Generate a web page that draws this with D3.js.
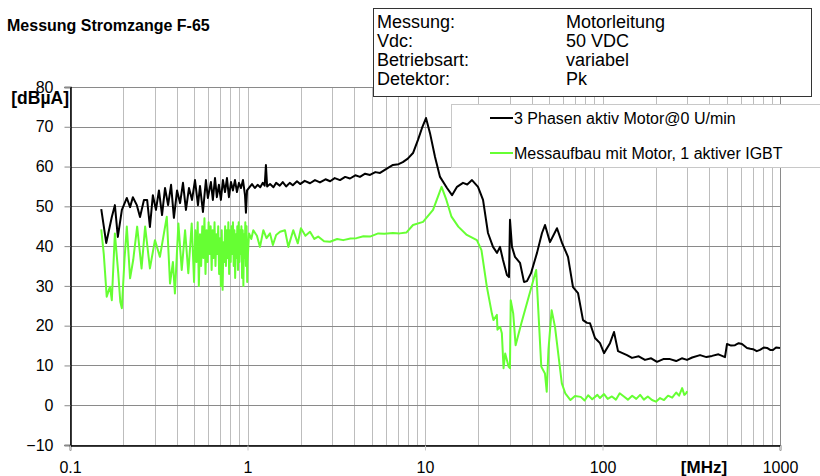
<!DOCTYPE html>
<html>
<head>
<meta charset="utf-8">
<script src="https://cdn.jsdelivr.net/npm/d3@7"></script>
<style>
  html, body { margin: 0; padding: 0; background: #fff; }
  svg { display: block; font-family: Arial, "Liberation Sans", sans-serif; }
</style>
</head>
<body>
<svg id="chart" width="820" height="476"></svg>
<script>
// Frequencies in MHz, levels in dBµA
const blackFreq = [
  0.150, 0.160, 0.172, 0.179, 0.186, 0.196, 0.209, 0.218, 0.226, 0.238,
  0.248, 0.261, 0.272, 0.282, 0.293, 0.305, 0.317, 0.330, 0.343, 0.357,
  0.371, 0.385, 0.401, 0.417, 0.433, 0.450, 0.468, 0.487, 0.506, 0.526,
  0.540, 0.561, 0.583, 0.598, 0.622, 0.638, 0.656, 0.672, 0.690, 0.708,
  0.727, 0.747, 0.766, 0.786, 0.807, 0.828, 0.850, 0.872, 0.895, 0.919,
  0.943, 0.968, 0.980, 0.994,
  1.03, 1.06, 1.10, 1.14, 1.18, 1.22, 1.25, 1.27, 1.29, 1.34,
  1.40, 1.45, 1.52, 1.58, 1.65, 1.73, 1.80, 1.90, 1.98, 2.10,
  2.25, 2.40, 2.56, 2.75, 2.92, 3.10, 3.32, 3.55, 3.78, 4.05,
  4.30, 4.60, 4.90, 5.25, 5.58, 6.00, 6.60, 7.10, 7.50, 8.00,
  8.56, 9.13, 9.62, 10.13, 10.67, 11.39, 12.15, 13.3, 14.2, 15.15,
  16.37, 17.3, 18.4, 19.89, 21.23, 22.64, 24.16, 25.45, 26.46, 27.51,
  28.97, 29.73, 30.12, 30.91, 32.14, 34.29, 36.12, 37.55, 39.56, 42.76,
  45.62, 47.44, 50.6, 55.42, 59.14, 63.92, 68.21, 72.78, 77.65, 81.8,
  85.05, 90.74, 96.8, 102.0, 110.2, 116.1, 122.3, 137.4, 146.6, 160,
  173.5, 188, 202.8, 220, 240.1, 260, 280, 299.4, 320, 354.3,
  385, 414, 450, 489.9, 502.9, 530, 557.9, 585, 610.7, 651.8,
  680, 704.6, 740, 771.7, 810, 845.2, 880, 913.1, 950, 1000
];
const blackLevel = [
  49.3, 40.8, 47.3, 50.3, 42.3, 49.1, 52.1, 49.8, 52.3, 50.3,
  47.3, 51.6, 51.6, 44.8, 52.8, 49.1, 54.0, 47.8, 54.6, 50.3,
  55.4, 47.1, 54.0, 50.8, 55.9, 49.1, 54.6, 51.6, 56.6, 50.3,
  55.1, 48.6, 56.6, 52.1, 56.1, 51.6, 57.1, 52.3, 55.4, 51.6,
  56.6, 53.6, 57.1, 52.3, 56.1, 54.0, 56.6, 53.6, 55.9, 54.6,
  56.6, 52.8, 48.4, 54.0,
  54.9, 55.6, 54.6, 55.4, 54.8, 55.9, 55.2, 60.4, 55.0, 55.6,
  54.8, 55.9, 55.2, 56.1, 55.0, 55.9, 55.3, 56.3, 55.6, 56.4,
  55.8, 56.6, 56.0, 56.8, 56.3, 57.1, 56.6, 57.4, 57.0, 57.8,
  57.4, 58.2, 57.9, 58.6, 58.4, 59.3, 60.4, 60.6, 61.1, 62.0,
  63.4, 66.7, 69.7, 72.2, 68.4, 62.4, 57.4, 54.6, 52.8, 54.9,
  55.9, 55.5, 56.6, 54.9, 51.6, 43.3, 39.8, 38.3, 39.8, 36.5,
  32.7, 32.2, 46.6, 39.8, 37.3, 35.8, 31.0, 31.2, 33.2, 38.3,
  43.3, 45.3, 41.0, 44.5, 40.8, 37.3, 29.7, 28.2, 21.4, 20.7,
  20.6, 16.9, 15.6, 13.1, 15.6, 18.4, 13.6, 12.6, 11.9, 12.3,
  11.4, 11.8, 10.9, 11.6, 11.6, 11.1, 11.8, 11.4, 12.0, 12.6,
  12.1, 12.4, 12.8, 12.1, 15.4, 15.0, 15.1, 15.6, 15.4, 14.4,
  14.2, 14.1, 13.6, 13.9, 14.5, 14.4, 13.9, 13.9, 14.5, 14.4
];

const greenFreq = [
  0.150, 0.155, 0.161, 0.168, 0.172, 0.179, 0.187, 0.192, 0.196, 0.203,
  0.209, 0.218, 0.227, 0.239, 0.253, 0.265, 0.282, 0.301, 0.321, 0.351,
  0.366, 0.380, 0.390, 0.408, 0.426, 0.445, 0.464, 0.485,
  0.500, 0.508, 0.516, 0.524, 0.532, 0.540, 0.548, 0.556, 0.564, 0.572,
  0.580, 0.588, 0.596, 0.604, 0.612, 0.620, 0.628, 0.636, 0.644, 0.652,
  0.660, 0.668, 0.676, 0.684, 0.692, 0.700, 0.708, 0.716, 0.724, 0.732,
  0.740, 0.748, 0.756, 0.764, 0.772, 0.780, 0.788, 0.796, 0.804, 0.812,
  0.820, 0.828, 0.836, 0.844, 0.852, 0.860, 0.868, 0.876, 0.884, 0.892,
  0.900, 0.908, 0.916, 0.924, 0.932, 0.940, 0.948, 0.956, 0.964, 0.972,
  0.980, 0.988, 0.996,
  1.000, 1.02, 1.05, 1.078, 1.13, 1.176, 1.228, 1.28, 1.339,
  1.39, 1.45, 1.525, 1.626, 1.698, 1.81, 1.92, 2.00, 2.12, 2.25,
  2.38, 2.50, 2.70, 2.916, 3.2, 3.46, 3.8, 4.11, 4.5, 4.9,
  5.45, 5.9, 6.6, 7.2, 7.85, 8.56, 9.75, 11.1, 12.4, 13.2,
  14.1, 15.4, 17.2, 19.6, 20.8, 22.3, 23.8, 24.3, 25.4, 25.6,
  26.5, 27.1, 27.7, 28.3, 29.6, 30.1, 30.4, 31.4, 32.4, 34.9,
  42.3, 45.2, 47.4, 48.5, 49.6, 51.7, 54.0, 59.0, 61.7, 66.0,
  70.0, 75.4, 79.3, 83.0, 87.5, 93.6, 96.8, 102, 107, 113,
  119, 125, 132, 139, 147, 155, 163, 171, 180, 190,
  200, 211, 222, 234, 247, 260, 270, 281, 289, 296, 300
];
const greenLevel = [
  44.2, 38.0, 27.3, 29.8, 26.4, 43.2, 33.2, 26.0, 24.4, 37.0,
  44.9, 31.9, 36.5, 44.9, 34.4, 44.9, 34.4, 41.5, 37.3, 47.4,
  30.6, 36.0, 28.1, 45.7, 34.0, 44.0, 33.2, 45.7,
  31, 44, 36, 46, 30, 43, 35, 45, 37, 47,
  33, 44, 36, 46, 38, 45, 34, 44, 37, 46,
  35, 43, 38, 45, 33, 42, 30, 44, 29, 41,
  36, 45, 35, 44, 37, 46, 33, 44, 36, 45,
  38, 46, 35, 44, 32, 43, 37, 45, 34, 46,
  36, 44, 38, 45, 32, 44, 30, 43, 37, 46,
  35, 45, 31,
  36.0, 43.2, 41.8, 44.0, 42.6, 39.8, 44.0, 42.0, 43.2,
  40.3, 42.8, 43.6, 44.0, 39.8, 44.0, 40.7, 44.5, 42.6, 43.6,
  41.8, 42.4, 41.2, 41.1, 41.8, 41.5, 41.9, 42.0, 42.5, 42.4,
  43.2, 43.1, 43.3, 43.2, 43.4, 45.3, 46.1, 49.1, 54.9, 51.6,
  47.4, 44.9, 42.8, 41.5, 39.0, 29.8, 23.1, 21.4, 22.7, 19.0,
  19.7, 18.1, 9.3, 13.0, 9.7, 9.3, 26.4, 23.1, 15.1, 20.6,
  34.0, 9.7, 8.0, 3.4, 13.9, 23.9, 19.7, 5.5, 3.0, 1.3,
  2.3, 2.1, 1.2, 2.5, 1.5, 2.6, 1.8, 2.8, 1.6, 2.2,
  1.4, 3.0, 2.2, 1.4, 2.4, 1.6, 2.6, 1.4, 2.2, 1.3,
  0.9, 1.8, 1.3, 2.4, 1.9, 3.2, 2.4, 4.3, 2.6, 3.0, 3.5
];

const seriesNames = ["3 Phasen aktiv Motor@0 U/min", "Messaufbau mit Motor, 1 aktiver IGBT"];
const seriesColors = ["#000000", "#66ff33"];

const yTicks = [-10, 0, 10, 20, 30, 40, 50, 60, 70, 80];
const xTicks = [0.1, 1, 10, 100, 1000];
const xTickLabels = ["0.1", "1", "10", "100", "1000"];

const titleText = "Messung Stromzange F-65";
const yUnit = "[dBµA]";
const xUnit = "[MHz]";
const infoLabels = ["Messung:", "Vdc:", "Betriebsart:", "Detektor:"];
const infoValues = ["Motorleitung", "50 VDC", "variabel", "Pk"];

const svg = d3.select("#chart");

const plot = { left: 70, right: 780, top: 87, bottom: 445 };
const x = d3.scaleLog().domain([0.1, 1000]).range([plot.left, plot.right]);
const y = d3.scaleLinear().domain([-10, 80]).range([plot.bottom, plot.top]);

// vertical grid: 1..9 in every decade
const gridFreqs = [];
for (let d = -1; d < 3; d++) {
  for (let m = 1; m < 10; m++) gridFreqs.push(m * Math.pow(10, d));
}
gridFreqs.push(1000);

svg.append("g").selectAll("line").data(gridFreqs).join("line")
  .attr("x1", d => Math.round(x(d)) + 0.5).attr("x2", d => Math.round(x(d)) + 0.5)
  .attr("y1", plot.top).attr("y2", plot.bottom)
  .attr("stroke", "#bdbdbd").attr("stroke-width", 1);

svg.append("g").selectAll("line").data(yTicks).join("line")
  .attr("x1", plot.left).attr("x2", plot.right)
  .attr("y1", d => Math.round(y(d)) + 0.5).attr("y2", d => Math.round(y(d)) + 0.5)
  .attr("stroke", "#8a8a8a").attr("stroke-width", 1);

// frame: top and right in grey
svg.append("rect")
  .attr("x", plot.left + 0.5).attr("y", plot.top + 0.5)
  .attr("width", plot.right - plot.left).attr("height", plot.bottom - plot.top)
  .attr("fill", "none").attr("stroke", "#8a8a8a");

// axes
const yAxis = d3.axisLeft(y).tickValues(yTicks).tickSize(6).tickPadding(11).tickFormat(d3.format("d"));
const gy = svg.append("g").attr("transform", `translate(${plot.left + 0.5},0)`).call(yAxis);
gy.select(".domain").attr("stroke", "#000").attr("stroke-width", 1.5);
gy.selectAll(".tick line").attr("stroke", "#8a8a8a");
gy.selectAll("text").attr("font-size", 16).attr("fill", "#000")
  .attr("font-family", "Arial, 'Liberation Sans', sans-serif");

const xAxis = d3.axisBottom(x).tickValues(xTicks).tickSize(5).tickPadding(11)
  .tickFormat((d, i) => xTickLabels[i]);
const gx = svg.append("g").attr("transform", `translate(0,${plot.bottom + 0.5})`).call(xAxis);
gx.select(".domain").attr("stroke", "#000").attr("stroke-width", 1.5);
gx.selectAll(".tick line").attr("stroke", "#c8c8c8");
gx.selectAll("text").attr("font-size", 16).attr("fill", "#000")
  .attr("font-family", "Arial, 'Liberation Sans', sans-serif");

// curves
const line = d3.line().x(d => x(d[0])).y(d => y(d[1]));
const series = [
  d3.zip(blackFreq, blackLevel),
  d3.zip(greenFreq, greenLevel)
];
svg.append("path").datum(series[1])
  .attr("d", line).attr("fill", "none")
  .attr("stroke", seriesColors[1]).attr("stroke-width", 2).attr("stroke-linejoin", "round");
svg.append("path").datum(series[0])
  .attr("d", line).attr("fill", "none")
  .attr("stroke", seriesColors[0]).attr("stroke-width", 2).attr("stroke-linejoin", "round");

// title and units
svg.append("text").attr("x", 7).attr("y", 31)
  .attr("font-size", 16).attr("font-weight", "bold").text(titleText);
svg.append("text").attr("x", 69).attr("y", 104).attr("text-anchor", "end")
  .attr("font-size", 17.5).attr("font-weight", "bold").text(yUnit);
svg.append("text").attr("x", 704).attr("y", 473).attr("text-anchor", "middle")
  .attr("font-size", 17).attr("font-weight", "bold").text(xUnit);

// legend
const legend = svg.append("g");
legend.append("rect").attr("x", 451.5).attr("y", 104.5).attr("width", 380).attr("height", 63)
  .attr("fill", "#fff").attr("stroke", "#c8c8c8");
seriesNames.forEach((name, i) => {
  const ly = 118 + i * 35;
  legend.append("line").attr("x1", 490).attr("x2", 513).attr("y1", ly).attr("y2", ly)
    .attr("stroke", seriesColors[i]).attr("stroke-width", 2);
  legend.append("text").attr("x", 514).attr("y", ly + 6).attr("font-size", 16).text(name);
});

// info box
const info = svg.append("g");
info.append("rect").attr("x", 373.5).attr("y", 8.5).attr("width", 438).attr("height", 88)
  .attr("fill", "#fff").attr("stroke", "#333");
infoLabels.forEach((lab, i) => {
  const by = 28 + i * 19;
  info.append("text").attr("x", 377).attr("y", by).attr("font-size", 18).text(lab);
  info.append("text").attr("x", 566).attr("y", by).attr("font-size", 18).text(infoValues[i]);
});
</script>
</body>
</html>
